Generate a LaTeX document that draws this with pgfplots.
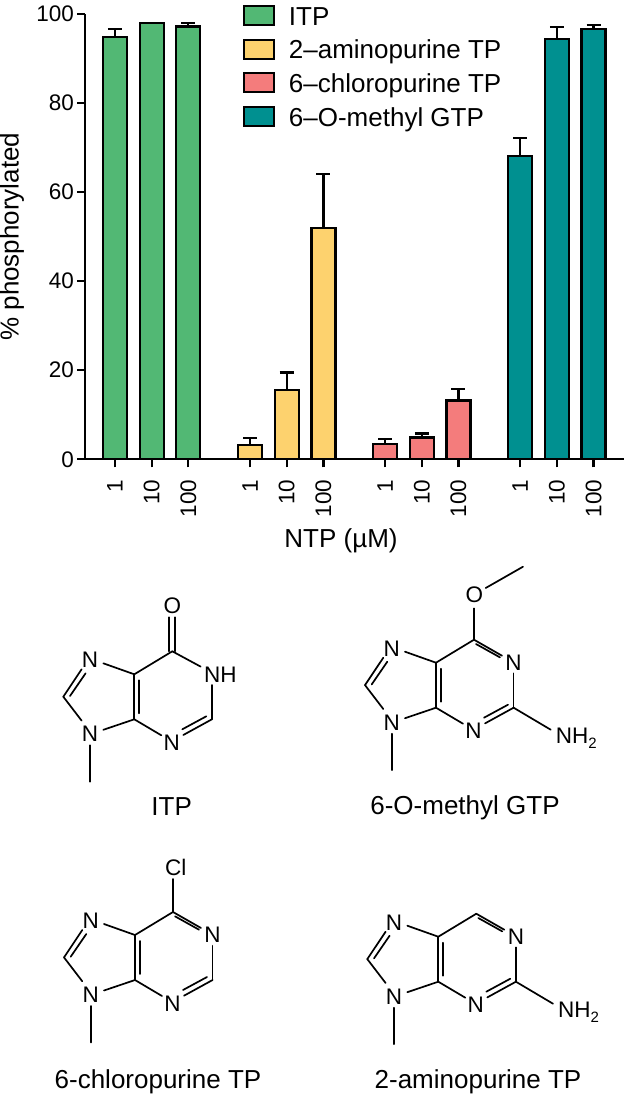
\documentclass[border=0pt]{standalone}
\usepackage{pgfplots}
\pgfplotsset{compat=1.18}
\usepackage{fontspec}
\setmainfont{Liberation Sans}
\definecolor{cgreen}{HTML}{52B874}
\definecolor{cyellow}{HTML}{FDD26E}
\definecolor{cred}{HTML}{F47C7C}
\definecolor{cteal}{HTML}{009090}
\newcommand{\lab}{\fontsize{22.5}{24}\selectfont}
\newcommand{\purine}{%
  \draw (0,0)--(0,45) (5,6)--(5,39);
  \draw (0,0)--(38,-23);
  \draw (0,45)--(27,61);
  \draw (0,0)--(-31,-11);
  \draw (0,45)--(-31,55.5);
  \draw (-71,22.4)--(-52.7,-5) (-64.3,21.7)--(-48.7,-1);
  \draw (-71,22.4)--(-52.7,46.3);
  \draw (-44.3,71)--(-44.3,107.4);
  \node at (-44.3,-14.3) {\lab N};
  \node at (-44.3,59.7) {\lab N};
  \node at (37.4,68.4) {\lab N};
  \draw (77.6,45)--(49,60.7) (72,42)--(48,55);
  \draw (77.6,10.7)--(77.6,45);
}
\newcommand{\pyrN}{%
  \draw (38,-23)--(66,-7) (40,-18.7)--(64,-5.3);
  \node at (77.6,0) {\lab N};
}
\newcommand{\nhtwo}{%
  \draw (77.6,45)--(114.7,67);
  \node[anchor=west,inner sep=0pt] at (119,76) {\lab NH\raisebox{-5pt}{\fontsize{15}{16}\selectfont 2}};
}
\begin{document}
\begin{tikzpicture}
\useasboundingbox (0,0) rectangle (627pt,-1102pt);
\begin{axis}[
  at={(85pt,-459.3pt)}, anchor=south west,
  scale only axis, width=539pt, height=445.3pt,
  xmin=-0.817, xmax=13.87, ymin=0, ymax=100,
  axis x line*=bottom, axis y line*=left,
  axis line style={line width=2.2pt,black},
  ybar, bar width=24pt, bar shift=0pt,
  clip=false,
  tick align=outside, major tick length=8pt,
  tick style={line width=2.2pt,black},
  ytick={0,20,40,60,80,100},
  xtick={0,1,2,3.68,4.68,5.68,7.36,8.36,9.36,11.04,12.04,13.04},
  xticklabels={1,10,100,1,10,100,1,10,100,1,10,100},
  /pgf/number format/assume math mode=true,
  tick label style={font=\fontsize{22.5}{26}\selectfont},
  x tick label style={rotate=90,anchor=east,inner sep=0pt,xshift=-12pt},
  y tick label style={inner sep=0pt,xshift=-3pt},
  every axis y label/.style={at={(rel axis cs:0,0.5)},xshift=-73pt,rotate=90,anchor=center},
  every axis x label/.style={at={(rel axis cs:0.475,0)},yshift=-81.7pt,anchor=center},
  label style={font=\fontsize{26}{30}\selectfont},
  xlabel={NTP (µM)}, ylabel={\% phosphorylated},
  legend image code/.code={\draw[#1,draw=black,line width=2pt] (0pt,-9.5pt) rectangle (30pt,9.5pt);},
  legend style={at={(0.293,1.0202)},anchor=north west,draw=none,fill=none,
    inner sep=0pt,outer sep=0pt,row sep=12.7pt,
    font=\fontsize{26}{30}\selectfont,
    /tikz/every odd column/.style={column sep=14pt},
    nodes={inner sep=0pt,text height=19pt,text depth=0pt}},
  legend cell align=left,
  error bars/y dir=plus, error bars/y explicit,
  error bars/error bar style={line width=2.2pt,black},
  error bars/error mark options={rotate=90,mark size=7pt,line width=2.2pt,black},
]
\addplot[draw=black,line width=2.2pt,fill=cgreen] coordinates {(0,94.9) +- (0,1.7) (1,97.9) +- (0,0.05) (2,97.2) +- (0,0.7)};
\addlegendentry{ITP}
\addplot[draw=black,line width=2.2pt,fill=cyellow] coordinates {(3.68,3.2) +- (0,1.5) (4.68,15.6) +- (0,3.9) (5.68,51.9) +- (0,12.2)};
\addlegendentry{2–aminopurine TP}
\addplot[draw=black,line width=2.2pt,fill=cred] coordinates {(7.36,3.4) +- (0,1.1) (8.36,4.9) +- (0,0.9) (9.36,13.2) +- (0,2.6)};
\addlegendentry{6–chloropurine TP}
\addplot[draw=black,line width=2.2pt,fill=cteal] coordinates {(11.04,68.1) +- (0,4.1) (12.04,94.4) +- (0,2.7) (13.04,96.6) +- (0,0.9)};
\addlegendentry{6–O-methyl GTP}
\end{axis}
\begin{scope}[x=1pt,y=-1pt,line width=1.7pt,line cap=round]
  % ITP
  \begin{scope}[shift={(134.3,674.3)}]
    \purine
    \draw (35,-23)--(35,-57) (41,-23)--(41,-57);
    \draw (38,-23)--(66.3,-7.7);
    \node at (38,-68.3) {\lab O};
    \node[anchor=west,inner sep=0pt] at (69,0) {\lab NH};
  \end{scope}
  % GTP
  \begin{scope}[shift={(436,662.7)}]
    \purine \pyrN \nhtwo
    \draw (38.3,-23)--(38.3,-54.3);
    \node at (38.3,-67.7) {\lab O};
    \draw (49.7,-74.7)--(87,-96);
  \end{scope}
  % Cl
  \begin{scope}[shift={(135,935)}]
    \purine \pyrN
    \draw (38.3,-23)--(38.3,-56);
    \node at (40.7,-67.7) {\lab Cl};
  \end{scope}
  % 2-aminopurine
  \begin{scope}[shift={(438.3,936.7)}]
    \purine \pyrN \nhtwo
  \end{scope}
\end{scope}
\begin{scope}[font=\fontsize{26}{30}\selectfont]
  \node at (171.7pt,-806.7pt) {ITP};
  \node at (465pt,-808pt) {6-O-methyl GTP};
  \node at (158pt,-1081.7pt) {6-chloropurine TP};
  \node at (478pt,-1081.7pt) {2-aminopurine TP};
\end{scope}
\end{tikzpicture}
\end{document}
